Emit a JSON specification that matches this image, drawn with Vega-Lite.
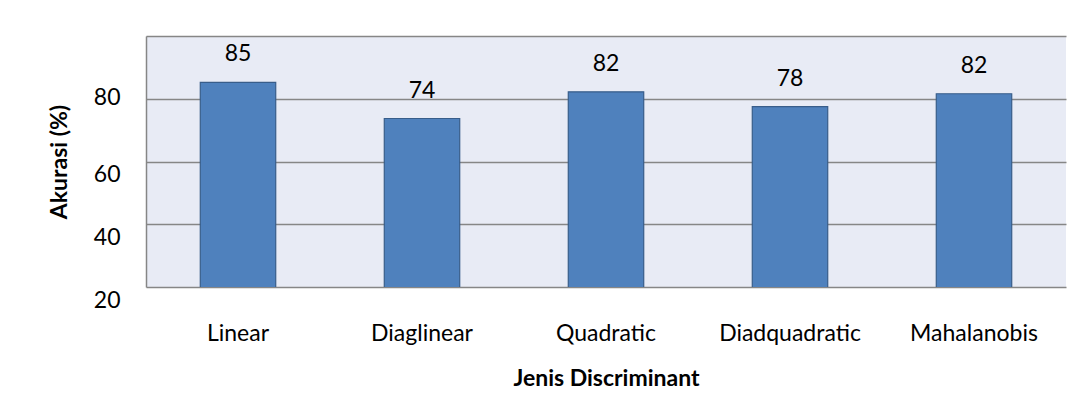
{
  "$schema": "https://vega.github.io/schema/vega-lite/v6.json",
  "width": 920,
  "height": 251,
  "autosize": {"type": "none"},
  "padding": {"left": 146, "top": 36, "right": 22, "bottom": 120},
  "background": "white",
  "data": {"values": [
    {"jenis": "Linear", "akurasi": 85.2},
    {"jenis": "Diaglinear", "akurasi": 73.7},
    {"jenis": "Quadratic", "akurasi": 82.2},
    {"jenis": "Diadquadratic", "akurasi": 77.5},
    {"jenis": "Mahalanobis", "akurasi": 81.6}
  ]},
  "encoding": {
    "x": {
      "field": "jenis", "type": "nominal", "sort": null,
      "scale": {"paddingInner": 0.59, "paddingOuter": 0.295},
      "axis": {
        "title": "Jenis Discriminant", "labelAngle": 0, "ticks": false,
        "domain": false, "labelPadding": 35, "titlePadding": 22,
        "labelFont": "Lato", "labelFontSize": 23, "labelColor": "#000000",
        "titleFont": "Lato", "titleFontSize": 23, "titleFontWeight": "bold", "titleColor": "#000000"
      }
    },
    "y": {
      "field": "akurasi", "type": "quantitative",
      "scale": {"domain": [20, 100], "nice": false, "zero": false},
      "axis": {
        "title": "Akurasi (%)", "values": [20, 40, 60, 80, 100], "ticks": false,
        "domain": true, "domainColor": "#868686", "domainWidth": 1.5,
        "gridColor": "#868686", "gridWidth": 1.5,
        "labelExpr": "datum.value == 100 ? '' : datum.label",
        "labelOffset": {"expr": "datum.value == 80 ? -1 : 13"},
        "labelPadding": 26, "titlePadding": 22,
        "labelFont": "Lato", "labelFontSize": 23, "labelColor": "#000000",
        "titleFont": "Lato", "titleFontSize": 23, "titleFontWeight": "bold", "titleColor": "#000000"
      }
    }
  },
  "layer": [
    {
      "mark": {"type": "bar", "clip": true, "color": "#4F81BD", "stroke": "#385D8A", "strokeWidth": 1.2}
    },
    {
      "mark": {"type": "text", "dy": -21, "baseline": "alphabetic", "font": "Lato", "fontSize": 23, "color": "#000000"},
      "encoding": {"text": {"field": "akurasi", "type": "quantitative", "format": ".0f"}}
    }
  ],
  "config": {
    "view": {"fill": "#E8EBF5", "stroke": null}
  }
}
